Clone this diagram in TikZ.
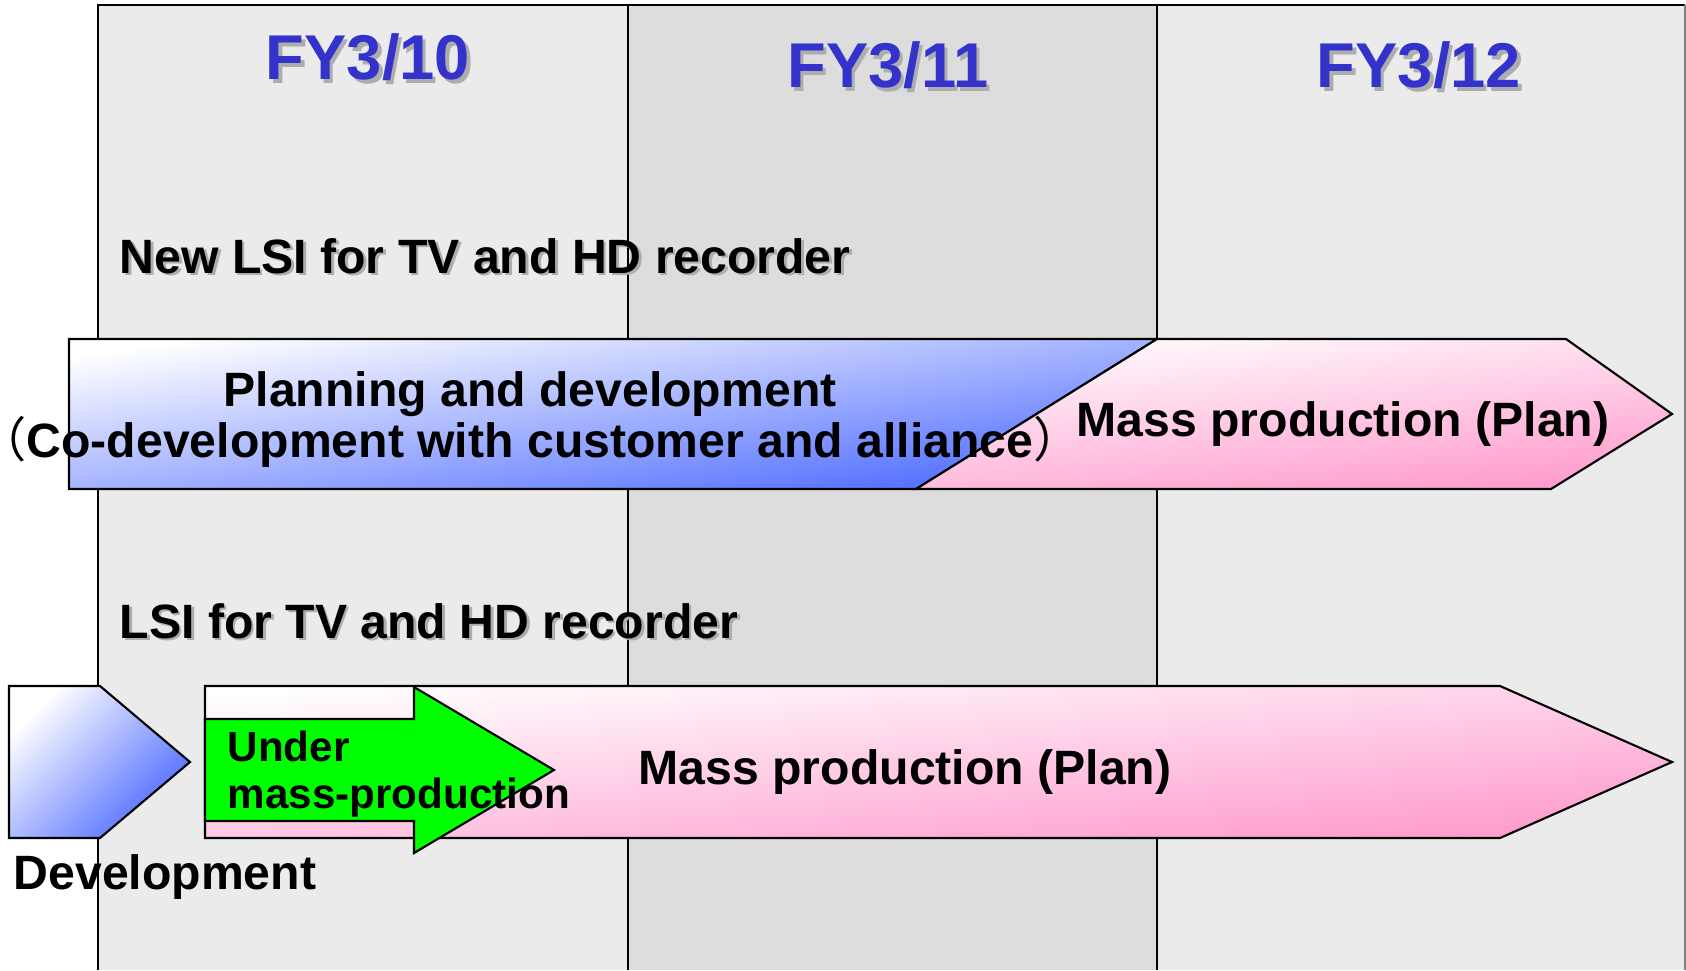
\documentclass[tikz,border=0pt]{standalone}
\usepackage{fontspec}
\setmainfont{Liberation Sans}
\newfontfamily\cjk{Noto Sans CJK JP}
\usepackage{tikz}
\usetikzlibrary{shapes,arrows}
\definecolor{colA}{HTML}{EBEBEB}
\definecolor{colB}{HTML}{DDDDDD}
\definecolor{yrblue}{HTML}{3333CC}
\definecolor{shgray}{HTML}{ADADAD}
\definecolor{devblue}{HTML}{4A68FF}
\definecolor{massPink}{HTML}{FF99CC}
\definecolor{nowgreen}{HTML}{00FF00}
\newcommand\yrfont{\fontsize{18}{20}\selectfont\bfseries}
\newcommand\lblfont{\fontsize{13.7}{15}\selectfont\bfseries}
\newcommand\smlfont{\fontsize{12}{13}\selectfont\bfseries}

\begin{document}
\begin{tikzpicture}[x=0.01cm, y=-0.01cm]
      \tikzstyle{yr} = [font=\yrfont, text=yrblue, inner sep=0pt, anchor=base]
      \tikzstyle{yrsh} = [yr, text=shgray, xshift=0.9pt, yshift=-0.9pt]
      \tikzstyle{lbl} = [font=\lblfont, inner sep=0pt, anchor=base]
      \tikzstyle{lblsh} = [lbl, text=shgray, xshift=0.8pt, yshift=-0.8pt]
      \tikzstyle{arrowbox} = [draw, line width=0.6pt, line join=miter]
      \useasboundingbox (0,0) rectangle (1686,970);
      % columns
      \fill[colA] (98,5) rectangle (628,970);
      \fill[colB] (628,5) rectangle (1157,970);
      \fill[colA] (1157,5) rectangle (1685,970);
      \draw[line width=0.6pt] (98,970) -- (98,5) -- (1685,5);
      \draw[line width=0.6pt] (628,5) -- (628,970);
      \draw[line width=0.6pt] (1157,5) -- (1157,970);
      \draw[line width=0.6pt, gray] (1685,5) -- (1685,970);
      % years
      \node (fy10s) [yrsh] at (368,80) {FY3/10};
      \node (fy10) [yr] at (368,80) {FY3/10};
      \node (fy11s) [yrsh] at (888,88) {FY3/11};
      \node (fy11) [yr] at (888,88) {FY3/11};
      \node (fy12s) [yrsh] at (1419,88) {FY3/12};
      \node (fy12) [yr] at (1419,88) {FY3/12};
      % new LSI row
      \node (newlsis) [lblsh, anchor=base west] at (119,273) {New LSI for TV and HD recorder};
      \node (newlsi) [lbl, anchor=base west] at (119,273) {New LSI for TV and HD recorder};
      \shade[arrowbox, top color=white, bottom color=devblue, shading angle=8]
        (69,339) -- (1157,339) -- (916,489) -- (69,489) -- cycle;
      \shade[arrowbox, top color=white, bottom color=massPink, shading angle=6]
        (1157,339) -- (1566,339) -- (1672,414) -- (1551,489) -- (916,489) -- cycle;
      \node (plan1) [lbl] at (530,406) {Planning and development};
      \node (plan2) [lbl] at (530,457) {\makebox[0.45em][r]{\cjk\mdseries （}Co-development with customer and alliance\makebox[0.45em][l]{\cjk\mdseries ）}};
      \node (mass1) [lbl] at (1343,436) {Mass production (Plan)};
      % current LSI row
      \node (lsis) [lblsh, anchor=base west] at (119,638) {LSI for TV and HD recorder};
      \node (lsi) [lbl, anchor=base west] at (119,638) {LSI for TV and HD recorder};
      \shade[arrowbox, top color=white, bottom color=devblue, shading angle=45]
        (9,686) -- (100,686) -- (190,762) -- (100,838) -- (9,838) -- cycle;
      \shade[arrowbox, top color=white, bottom color=massPink, shading angle=5]
        (205,686) -- (1500,686) -- (1672,762) -- (1500,838) -- (205,838) -- cycle;
      \filldraw[arrowbox, fill=nowgreen]
        (205,719) -- (414,719) -- (414,687) -- (554,770) -- (414,853) -- (414,821) -- (205,821) -- cycle;
      \node (under1) [lbl, font=\smlfont, anchor=base west] at (227,761) {Under};
      \node (under2) [lbl, font=\smlfont, anchor=base west] at (227,808) {mass-production};
      \node (mass2) [lbl] at (905,784) {Mass production (Plan)};
      \node (dev) [lbl, anchor=base west] at (13,889) {Development};
\end{tikzpicture}
\end{document}
